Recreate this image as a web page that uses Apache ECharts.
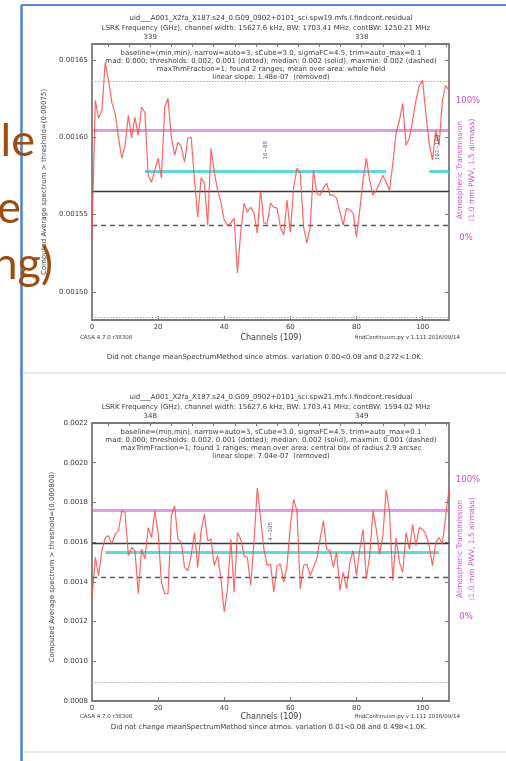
<!DOCTYPE html>
<html>
<head>
<meta charset="utf-8">
<script src="https://cdn.jsdelivr.net/npm/echarts@6/dist/echarts.min.js"></script>
<style>
  html, body { margin: 0; padding: 0; background: #ffffff; }
  #chart { width: 506px; height: 761px; }
</style>
</head>
<body>
<div id="chart"></div>
<script>
// ---- spw19 (upper panel) ----
const spw19Spectrum = [
  0.0015355, 0.0016239, 0.0016123, 0.0016174, 0.0016484, 0.0016368, 0.0016226, 0.0016155, 0.0016000, 0.0015865,
  0.0015948, 0.0016142, 0.0015994, 0.0016129, 0.0016013, 0.0016194, 0.0016161, 0.0015755, 0.0015710, 0.0015787,
  0.0015865, 0.0015736, 0.0016194, 0.0016252, 0.0016000, 0.0015884, 0.0015968, 0.0015936, 0.0015839, 0.0015994,
  0.0016000, 0.0015723, 0.0015484, 0.0015736, 0.0015703, 0.0015432, 0.0015929, 0.0015774, 0.0015658, 0.0015581,
  0.0015465, 0.0015432, 0.0015445, 0.0015478, 0.0015123, 0.0015387, 0.0015574, 0.0015516, 0.0015548, 0.0015510,
  0.0015381, 0.0015658, 0.0015445, 0.0015445, 0.0015574, 0.0015548, 0.0015542, 0.0015420, 0.0015368, 0.0015594,
  0.0015387, 0.0015677, 0.0015800, 0.0015768, 0.0015420, 0.0015316, 0.0015420, 0.0015787, 0.0015639, 0.0015626,
  0.0015671, 0.0015703, 0.0015626, 0.0015626, 0.0015607, 0.0015516, 0.0015432, 0.0015542, 0.0015529, 0.0015510,
  0.0015355, 0.0015529, 0.0015723, 0.0015865, 0.0015723, 0.0015626, 0.0015658, 0.0015703, 0.0015755, 0.0015710,
  0.0015658, 0.0015832, 0.0016026, 0.0016110, 0.0016219, 0.0015948, 0.0015994, 0.0016110, 0.0016239, 0.0016335,
  0.0016368, 0.0016155, 0.0015961, 0.0015852, 0.0016045, 0.0015948, 0.0016239, 0.0016335, 0.0016303
];
const spw19YTicks = [0.0015, 0.00155, 0.0016, 0.00165];
const spw19YRange = [0.0014819, 0.0016603];
const spw19FreqRange = [337.587, 339.275];      // GHz at channel 108 .. channel 0
const spw19FreqLabels = [338, 339];
const spw19FreqTicks = [337.6, 337.7, 337.8, 337.9, 338.0, 338.1, 338.2, 338.3, 338.4, 338.5,
                        338.6, 338.7, 338.8, 338.9, 339.0, 339.1, 339.2];
const spw19Thresholds = [0.001636, 0.001484];  // dotted
const spw19Median = 0.001565;                   // solid
const spw19MaxMin = 0.001543;                   // dashed
const spw19Atmos = 0.0016045;                   // transmission curve
const spw19RangeLevel = 0.001578;
const spw19Ranges = [[16, 89], [102, 108]];
const spw19RangeLabels = ['16~89', '102~108'];
const spw19RangeLabelPos = [[52.5, 0.0015916], [104.5, 0.0015935]];

// ---- spw21 (lower panel) ----
const spw21Spectrum = [
  0.001315, 0.001523, 0.001432, 0.001557, 0.001623, 0.001632, 0.001590, 0.001640, 0.001657, 0.001757,
  0.001748, 0.001532, 0.001573, 0.001557, 0.001340, 0.001565, 0.001515, 0.001673, 0.001623, 0.001757,
  0.001648, 0.001398, 0.001340, 0.001340, 0.001732, 0.001782, 0.001615, 0.001598, 0.001473, 0.001457,
  0.001532, 0.001648, 0.001473, 0.001657, 0.001740, 0.001607, 0.001615, 0.001482, 0.001532, 0.001415,
  0.001248, 0.001365, 0.001615, 0.001348, 0.001648, 0.001615, 0.001532, 0.001523, 0.001382, 0.001598,
  0.001873, 0.001723, 0.001565, 0.001482, 0.001490, 0.001348, 0.001482, 0.001490, 0.001398, 0.001482,
  0.001682, 0.001815, 0.001757, 0.001365, 0.001482, 0.001490, 0.001432, 0.001473, 0.001515, 0.001615,
  0.001707, 0.001565, 0.001557, 0.001473, 0.001548, 0.001357, 0.001448, 0.001365, 0.001498, 0.001557,
  0.001432, 0.001565, 0.001665, 0.001415, 0.001532, 0.001757, 0.001665, 0.001540, 0.001632, 0.001865,
  0.001757, 0.001407, 0.001623, 0.001498, 0.001448, 0.001648, 0.001565, 0.001690, 0.001582, 0.001673,
  0.001665, 0.001640, 0.001582, 0.001482, 0.001598, 0.001623, 0.001590, 0.001732, 0.001865
];
const spw21YTicks = [0.0008, 0.0010, 0.0012, 0.0014, 0.0016, 0.0018, 0.0020, 0.0022];
const spw21YRange = [0.0008, 0.0022];
const spw21FreqRange = [347.725, 349.413];
const spw21FreqLabels = [348, 349];
const spw21FreqTicks = [347.8, 347.9, 348.0, 348.1, 348.2, 348.3, 348.4, 348.5, 348.6, 348.7,
                        348.8, 348.9, 349.0, 349.1, 349.2, 349.3, 349.4];
const spw21Thresholds = [0.000895];
const spw21Median = 0.001595;
const spw21MaxMin = 0.001423;
const spw21Atmos = 0.00176;
const spw21RangeLevel = 0.00155;
const spw21Ranges = [[4, 105]];
const spw21RangeLabels = ['4~105'];
const spw21RangeLabelPos = [[54, 0.001655]];

const channelTicks = [0, 20, 40, 60, 80, 100];
const channelRange = [0, 108];

const FONT = 'DejaVu Sans';
const INK = '#3a3a3a';
const FRAME = '#7a7a7a';
const MAGENTA = '#c64fc6';

function chanAxis(grid) {
  return {
    type: 'value', gridIndex: grid, position: 'bottom',
    min: channelRange[0], max: channelRange[1],
    axisLine: { show: true, lineStyle: { color: FRAME, width: 1.8 } },
    axisTick: { show: true, inside: true, length: 4, customValues: channelTicks, lineStyle: { color: FRAME } },
    axisLabel: { show: true, customValues: channelTicks, margin: 4, fontFamily: FONT, fontSize: 7, color: INK },
    splitLine: { show: false }
  };
}
function freqAxis(grid, range, labels, ticks, inverse) {
  return {
    type: 'value', gridIndex: grid, position: 'top', inverse: inverse,
    min: range[0], max: range[1],
    axisLine: { show: true, lineStyle: { color: FRAME, width: 1.8 } },
    axisTick: { show: true, inside: true, length: 3, customValues: ticks, lineStyle: { color: FRAME } },
    axisLabel: { show: true, customValues: labels, margin: 3, fontFamily: FONT, fontSize: 7, color: INK,
                 formatter: v => String(Math.round(v)) },
    splitLine: { show: false }
  };
}
function levelAxis(grid, range, ticks, digits, side) {
  const left = side === 'left';
  return {
    type: 'value', gridIndex: grid, position: side,
    min: range[0], max: range[1],
    axisLine: { show: true, lineStyle: { color: FRAME, width: 1.8 } },
    axisTick: { show: true, inside: true, length: 4, customValues: ticks, lineStyle: { color: FRAME } },
    axisLabel: { show: left, customValues: ticks, margin: 4, fontFamily: FONT, fontSize: 7, color: INK,
                 formatter: v => v.toFixed(digits) },
    splitLine: { show: false }
  };
}

// a horizontal level drawn across the whole channel range
function hLine(value, style) {
  return [
    { coord: [channelRange[0], value], lineStyle: style },
    { coord: [channelRange[1], value] }
  ];
}
function panelSeries(idx, spectrum, thresholds, median, maxmin, atmos, rangeLevel, ranges, rangeLabels, rangePos) {
  const lines = [];
  thresholds.forEach(t => lines.push(hLine(t, { color: '#a8a8a8', width: 1, type: [1.5, 1.5] })));
  lines.push(hLine(atmos, { color: 'rgba(205, 90, 205, 0.6)', width: 3, type: 'solid' }));
  lines.push(hLine(median, { color: '#3a3a3a', width: 1.3, type: 'solid' }));
  lines.push(hLine(maxmin, { color: '#5a5a5a', width: 1.3, type: [5, 4] }));
  ranges.forEach(r => lines.push([
    { coord: [r[0], rangeLevel], lineStyle: { color: 'rgba(70, 210, 210, 0.85)', width: 3, type: 'solid' } },
    { coord: [r[1], rangeLevel] }
  ]));
  return [
    {
      type: 'line', xAxisIndex: idx * 2, yAxisIndex: idx * 2,
      data: spectrum.map((v, i) => [i, v]),
      showSymbol: false, symbol: 'none', smooth: false, z: 3,
      lineStyle: { color: '#ff4a4a', width: 1.2, opacity: 0.85 },
      markLine: {
        silent: true, symbol: ['none', 'none'], z: 1, animation: false,
        label: { show: false },
        data: lines
      },
      animation: false
    },
    {
      type: 'scatter', xAxisIndex: idx * 2, yAxisIndex: idx * 2,
      data: rangePos.map((p, i) => ({ value: p, name: rangeLabels[i] })),
      symbolSize: 0, z: 4, silent: true, animation: false,
      label: { show: true, position: 'inside', rotate: 90, formatter: p => p.name,
               fontFamily: FONT, fontSize: 5.5, color: '#333' }
    }
  ];
}

// plain texts around each panel
function txt(x, y, text, size, opts) {
  opts = opts || {};
  return {
    type: 'text', x: x, y: y, rotation: opts.rot || 0, z: 10, silent: true,
    style: {
      text: text, fill: opts.fill || INK,
      font: (opts.weight || 'normal') + ' ' + size + 'px "' + (opts.family || FONT) + '"',
      textAlign: opts.align || 'center', textVerticalAlign: 'middle'
    }
  };
}
function panelTexts(dy, t) {
  return [
    txt(271, 18 + dy, t.title, 7),
    txt(266, 28 + dy, t.freq, 7),
    txt(271, 53 + dy, t.notes[0], 7),
    txt(271, 61 + dy, t.notes[1], 7),
    txt(271, 69 + dy, t.notes[2], 7),
    txt(271, 77 + dy, t.notes[3], 7),
    txt(t.yNameX, t.yNameY, t.yName, 7, { rot: Math.PI / 2 }),
    txt(80, t.footY, 'CASA 4.7.0 r38308', 5.5, { align: 'left' }),
    txt(271, t.footY, 'Channels (109)', 8),
    txt(460, t.footY, 'findContinuum.py v 1.111 2016/09/14', 5.5, { align: 'right' }),
    txt(t.noteX, t.noteY, t.note, 7),
    txt(468, 101 + dy, '100%', 8.5, { fill: MAGENTA }),
    txt(466, 238 + dy, '0%', 8.5, { fill: MAGENTA }),
    txt(460, 170 + dy, 'Atmospheric Transmission', 7.5, { fill: MAGENTA, rot: Math.PI / 2 }),
    txt(472, 170 + dy, '(1.0 mm PWV, 1.5 airmass)', 7.5, { fill: MAGENTA, rot: Math.PI / 2 })
  ];
}

const upperTexts = panelTexts(0, {
  title: 'uid___A001_X2fa_X187.s24_0.G09_0902+0101_sci.spw19.mfs.I.findcont.residual',
  freq: 'LSRK Frequency (GHz), channel width: 15627.6 kHz, BW: 1703.41 MHz, contBW: 1250.21 MHz',
  notes: [
    'baseline=(min,min), narrow=auto=3, sCube=3.0, sigmaFC=4.5, trim=auto_max=0.1',
    'mad: 0.000; thresholds: 0.002, 0.001 (dotted); median: 0.002 (solid), maxmin: 0.002 (dashed)',
    'maxTrimFraction=1; found 2 ranges; mean over area: whole field',
    'linear slope: 1.48e-07  (removed)'
  ],
  yName: 'Computed Average spectrum > threshold=(0.00075)', yNameX: 44, yNameY: 182,
  footY: 338,
  note: 'Did not change meanSpectrumMethod since atmos. variation 0.00<0.08 and 0.272<1.0K.',
  noteX: 265, noteY: 357
});
const lowerTexts = panelTexts(379, {
  title: 'uid___A001_X2fa_X187.s24_0.G09_0902+0101_sci.spw21.mfs.I.findcont.residual',
  freq: 'LSRK Frequency (GHz), channel width: 15627.6 kHz, BW: 1703.41 MHz, contBW: 1594.02 MHz',
  notes: [
    'baseline=(min,min), narrow=auto=3, sCube=3.0, sigmaFC=4.5, trim=auto_max=0.1',
    'mad: 0.000; thresholds: 0.002, 0.001 (dotted); median: 0.002 (solid), maxmin: 0.001 (dashed)',
    'maxTrimFraction=1; found 1 ranges; mean over area: central box of radius 2.9 arcsec',
    'linear slope: 7.04e-07  (removed)'
  ],
  yName: 'Computed Average spectrum > threshold=(0.000800)', yNameX: 52, yNameY: 567,
  footY: 717,
  note: 'Did not change meanSpectrumMethod since atmos. variation 0.01<0.08 and 0.498<1.0K.',
  noteX: 269, noteY: 727
});

// slide decorations: frame lines and the overlapping slide text
const SLIDE_TEXT = '#9e4c10';
const slide = [
  { type: 'line', z: 11, silent: true, shape: { x1: 21.5, y1: 5, x2: 21.5, y2: 761 },
    style: { stroke: '#4f81cf', lineWidth: 2.5 } },
  { type: 'line', z: 11, silent: true, shape: { x1: 21, y1: 5, x2: 506, y2: 5 },
    style: { stroke: '#5a8ad4', lineWidth: 2 } },
  { type: 'line', z: 1, silent: true, shape: { x1: 23, y1: 373, x2: 506, y2: 373 },
    style: { stroke: '#e2e2e2', lineWidth: 1.5 } },
  { type: 'line', z: 1, silent: true, shape: { x1: 23, y1: 752, x2: 506, y2: 752 },
    style: { stroke: '#e2e2e2', lineWidth: 1.5 } },
  { type: 'text', z: 20, silent: true, x: 35, y: 164,
    style: { text: 'le', fill: SLIDE_TEXT, font: '45px "Lato"', textAlign: 'right', textVerticalAlign: 'bottom' } },
  { type: 'text', z: 20, silent: true, x: 21, y: 231,
    style: { text: 'e', fill: SLIDE_TEXT, font: '45px "Lato"', textAlign: 'right', textVerticalAlign: 'bottom' } },
  { type: 'text', z: 20, silent: true, x: 53, y: 287,
    style: { text: 'ng)', fill: SLIDE_TEXT, font: '45px "Lato"', textAlign: 'right', textVerticalAlign: 'bottom' } }
];

const chart = echarts.init(document.getElementById('chart'), null, { renderer: 'canvas' });
chart.setOption({
  backgroundColor: '#ffffff',
  animation: false,
  grid: [
    { left: 92, top: 44, width: 357, height: 276 },
    { left: 92, top: 423, width: 357, height: 278 }
  ],
  xAxis: [
    chanAxis(0),
    freqAxis(0, spw19FreqRange, spw19FreqLabels, spw19FreqTicks, true),
    chanAxis(1),
    freqAxis(1, spw21FreqRange, spw21FreqLabels, spw21FreqTicks, false)
  ],
  yAxis: [
    levelAxis(0, spw19YRange, spw19YTicks, 5, 'left'),
    levelAxis(0, spw19YRange, spw19YTicks, 5, 'right'),
    levelAxis(1, spw21YRange, spw21YTicks, 4, 'left'),
    levelAxis(1, spw21YRange, spw21YTicks, 4, 'right')
  ],
  series: [].concat(
    panelSeries(0, spw19Spectrum, spw19Thresholds, spw19Median, spw19MaxMin, spw19Atmos,
                spw19RangeLevel, spw19Ranges, spw19RangeLabels, spw19RangeLabelPos),
    panelSeries(1, spw21Spectrum, spw21Thresholds, spw21Median, spw21MaxMin, spw21Atmos,
                spw21RangeLevel, spw21Ranges, spw21RangeLabels, spw21RangeLabelPos)
  ),
  graphic: { elements: slide.concat(upperTexts, lowerTexts) }
});
</script>
</body>
</html>
